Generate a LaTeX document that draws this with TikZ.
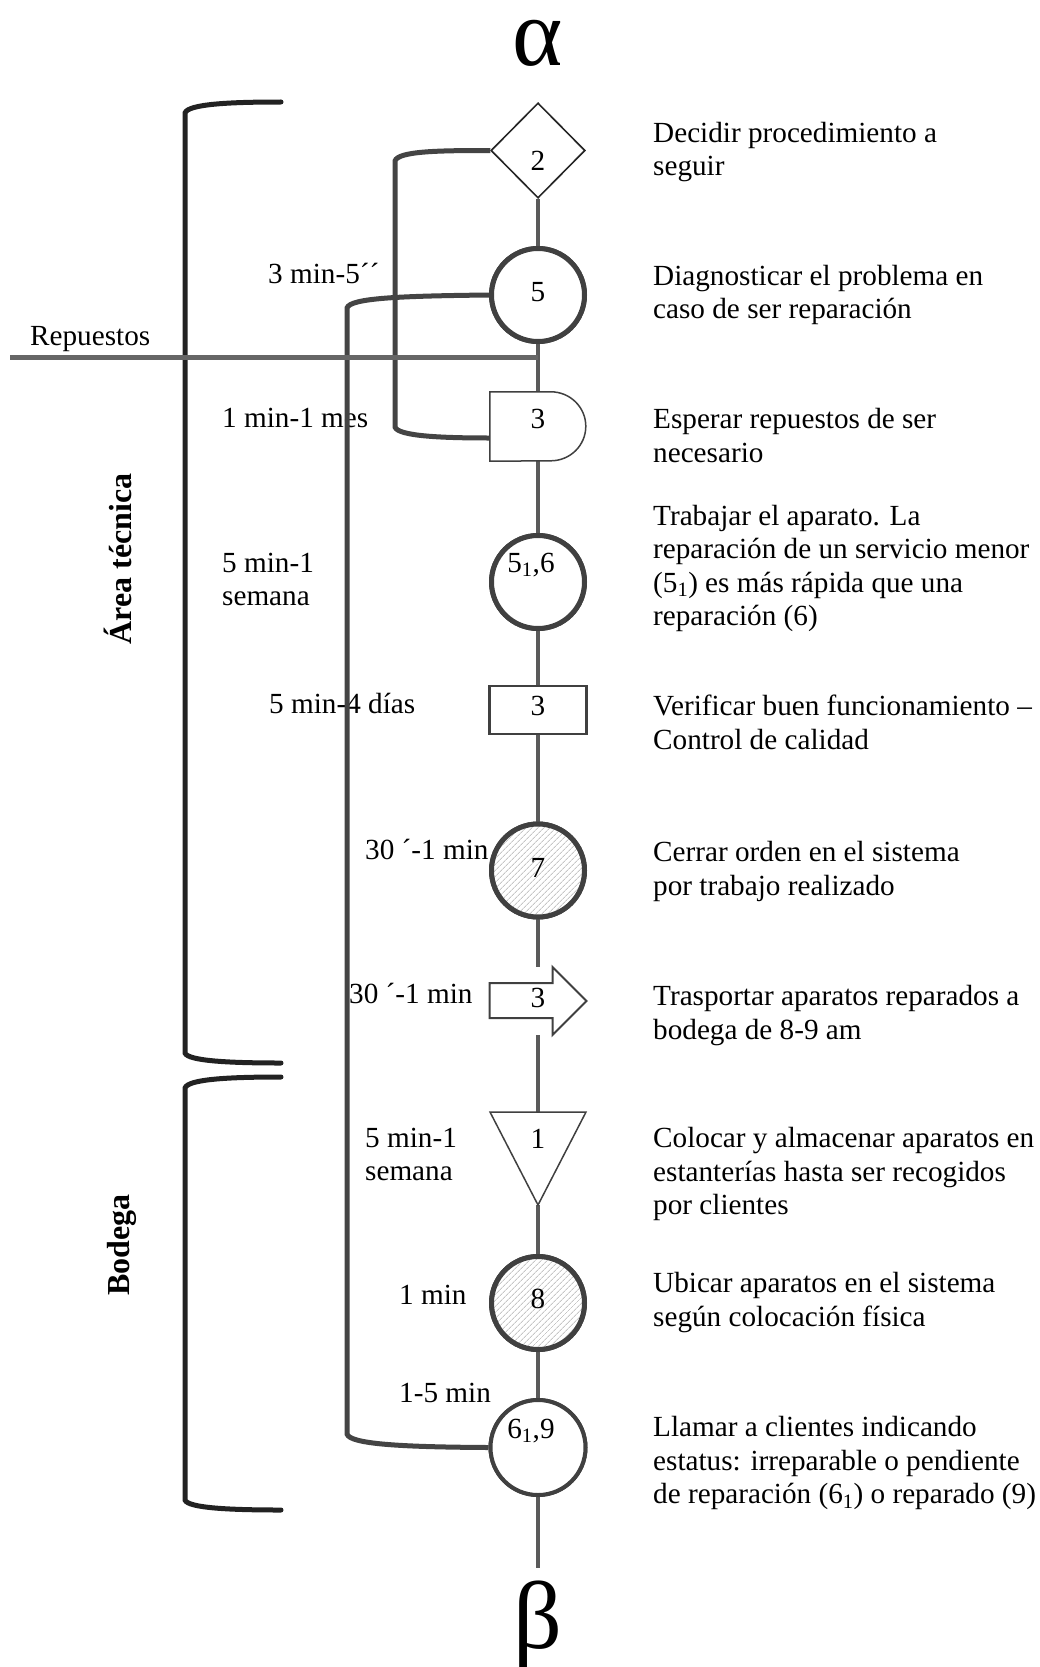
\documentclass[tikz,border=0pt]{standalone}
\usepackage{fontspec}
\setmainfont{Liberation Serif}
\usetikzlibrary{shapes.geometric,patterns.meta,calc}

\definecolor{mainln}{HTML}{5A5A5A}
\definecolor{loopc}{HTML}{444444}
\definecolor{brk}{HTML}{222222}
\definecolor{repc}{HTML}{666666}
\definecolor{edgec}{HTML}{404040}

\tikzset{
  txt/.style={font=\fontsize{29.2}{33.5}\selectfont, inner sep=0pt, align=left},
  desc/.style={txt, anchor=base west},
  timelab/.style={txt, anchor=base west},
  numlab/.style={font=\fontsize{29.2}{33.5}\selectfont, inner sep=0pt, anchor=base},
  sidelab/.style={font=\fontsize{32}{36}\selectfont\bfseries, inner sep=0pt, rotate=90, anchor=base},
  greek/.style={font=\fontsize{96}{96}\selectfont, inner sep=0pt, anchor=base},
  opcircle/.style={circle, draw=edgec, line width=5pt, fill=white, minimum size=93pt, inner sep=0pt},
  hatched/.style={opcircle, preaction={fill=white}, pattern={Lines[angle=45, distance=4pt, line width=0.9pt]}, pattern color=gray!45},
  anchorbox/.style={inner sep=0pt},
  flowline/.style={draw=mainln, line width=4.5pt},
  loopline/.style={draw=loopc, line width=5pt},
  bracketline/.style={draw=brk, line width=5pt, line cap=round},
  repline/.style={draw=repc, line width=5pt},
}

\begin{document}
\begin{tikzpicture}[x=1pt, y=-1pt]
  % page frame
  \useasboundingbox[fill=white] (0,0) rectangle (1039,1667);

  % ---------- symbols of the chart ----------
  \node[diamond, draw=black!85, line width=1.5pt, fill=white,
        minimum width=94pt, minimum height=95pt, inner sep=0pt] (d2) at (538,150.5) {};
  \node[opcircle] (c5) at (538,295) {};
  \node[anchorbox, minimum width=96pt, minimum height=69pt] (e3) at (538,426.5) {};
  \node[opcircle] (c51) at (538,582) {};
  \node[rectangle, draw=edgec, line width=2.5pt, fill=white,
        minimum width=97pt, minimum height=48pt, inner sep=0pt] (r3) at (538,710) {};
  \node[hatched] (c7) at (538,870.5) {};
  \node[anchorbox, minimum width=97pt, minimum height=68pt] (a3) at (538,1001) {};
  \node[anchorbox, minimum width=96pt, minimum height=93pt] (t1) at (538,1158.5) {};
  \node[hatched] (c8) at (538,1303) {};
  \node[opcircle, line width=4pt, minimum size=95pt] (c69) at (538,1447.5) {};
  \coordinate (flowend) at (538,1568);
  \coordinate (rep) at (10,357);

  % ---------- time labels on the left ----------
  \node[timelab] (tA) at (268,283) {3 min-5´´};
  \node[timelab] (tB) at (222,427) {1 min-1 mes};
  \node[timelab] (tC) at (222,605.5) {5 min-1\\semana};
  \node[timelab] (tD) at (269,713) {5 min-4 días};
  \node[timelab] (tE) at (365,859) {30 ´-1 min};
  \node[timelab] (tF) at (349,1003) {30 ´-1 min};
  \node[timelab] (tG) at (365,1180.5) {5 min-1\\semana};
  \node[timelab] (tH) at (399,1304) {1 min};
  \node[timelab] (tI) at (399,1402) {1-5 min};
  \node[timelab] (trep) at (30,345) {Repuestos};

  % ---------- area brackets ----------
  \draw[bracketline] (281,102) .. controls (230,102) and (188,104) .. (185,113)
        -- (185,1053) .. controls (188,1061) and (230,1063) .. (281,1063);
  \draw[bracketline] (281,1077) .. controls (230,1077) and (188,1079) .. (185,1088)
        -- (185,1500) .. controls (188,1508) and (230,1510) .. (281,1510);
  \node[sidelab] (areaT) at (131,559) {Área técnica};
  \node[sidelab] (areaB) at (129,1245) {Bodega};

  % ---------- return loops ----------
  \draw[loopline] (d2.west) .. controls (440,150.5) and (398,151) .. (395,161)
        -- (395,427) .. controls (398,436) and (440,438) .. ([yshift=-11.5pt]e3.west);
  \draw[loopline] (c5.west) .. controls (400,296) and (350,298) .. (347,308)
        -- (347,1434) .. controls (350,1444) and (400,1447) .. (c69.west);

  % ---------- main flow line ----------
  \draw[flowline] (d2.south) -- (c5.north);
  \draw[flowline] (c5.south) -- (e3.north);
  \draw[flowline] (e3.south) -- (c51.north);
  \draw[flowline] (c51.south) -- (r3.north);
  \draw[flowline] (r3.south) -- (c7.north);
  \draw[flowline] (c7.south) -- (a3.north);
  \draw[flowline] (a3.south) -- (t1.north);
  \draw[flowline] (t1.south) -- (c8.north);
  \draw[flowline] (c8.south) -- (c69.north);
  \draw[flowline] (c69.south) -- (flowend);

  % spare parts input
  \draw[repline] (rep) -- (rep -| c5.south);

  % ---------- outlines drawn over the flow line ----------
  % delay
  \draw[draw=edgec, line width=1.5pt, fill=white]
    (e3.north west) -- ++(61,0) arc[start angle=90, end angle=-90, x radius=35pt, y radius=34.5pt]
    -- (e3.south west) -- cycle;
  % transport arrow
  \draw[draw=edgec, line width=2pt, fill=white, shift={(a3.center)}]
    (-48.5,-18) -- (14.5,-18) -- (14.5,-34) -- (48.5,0) -- (14.5,34) -- (14.5,17) -- (-48.5,17) -- cycle;
  % storage triangle
  \draw[draw=edgec, line width=1.5pt, fill=white, shift={(t1.center)}]
    (-48,-46.5) -- (48,-46.5) -- (0,46.5) -- cycle;
  % redraw circles on top of line ends
  \node[opcircle] at (c5.center) {};
  \node[opcircle] at (c51.center) {};
  \node[hatched] at (c7.center) {};
  \node[hatched] at (c8.center) {};
  \node[opcircle, line width=4pt, minimum size=95pt] at (c69.center) {};
  \node[diamond, draw=black!85, line width=1.5pt, fill=white,
        minimum width=94pt, minimum height=95pt, inner sep=0pt] at (d2.center) {};

  % ---------- numbers inside the symbols ----------
  \node[numlab] (n2) at (538,170) {2};
  \node[numlab] (n5) at (538,301) {5};
  \node[numlab] (n3a) at (538,428) {3};
  \node[numlab] (n516) at (531,572) {5\textsubscript{1},6};
  \node[numlab] (n3b) at (538,715) {3};
  \node[numlab] (n7) at (538,877) {7};
  \node[numlab] (n3c) at (538,1007) {3};
  \node[numlab] (n1) at (538,1148) {1};
  \node[numlab] (n8) at (538,1308) {8};
  \node[numlab] (n619) at (531,1438) {6\textsubscript{1},9};

  % ---------- start and end marks ----------
  \node[greek, text height=0.5em, text depth=0pt] (alpha) at (538,66) {α};
  \node[greek] (beta) at (538,1648) {β};

  % ---------- descriptions ----------
  \node[desc] (s1) at (653,175.5) {Decidir procedimiento a\\seguir};
  \node[desc] (s2) at (653,318.5) {Diagnosticar el problema en\\caso de ser reparación};
  \node[desc] (s3) at (653,462) {Esperar repuestos de ser\\necesario};
  \node[desc] (s4) at (653,625.5) {Trabajar el aparato. La\\reparación de un servicio menor\\(5\textsubscript{1}) es más rápida que una\\reparación (6)};
  \node[desc] (s5) at (653,749) {Verificar buen funcionamiento –\\Control de calidad};
  \node[desc] (s6) at (653,895) {Cerrar orden en el sistema\\por trabajo realizado};
  \node[desc] (s7) at (653,1039) {Trasportar aparatos reparados a\\bodega de 8-9 am};
  \node[desc] (s8) at (653,1214.5) {Colocar y almacenar aparatos en\\estanterías hasta ser recogidos\\por clientes};
  \node[desc] (s9) at (653,1326) {Ubicar aparatos en el sistema\\según colocación física};
  \node[desc] (s10) at (653,1503.5) {Llamar a clientes indicando\\estatus: irreparable o pendiente\\de reparación (6\textsubscript{1}) o reparado (9)};
\end{tikzpicture}
\end{document}
